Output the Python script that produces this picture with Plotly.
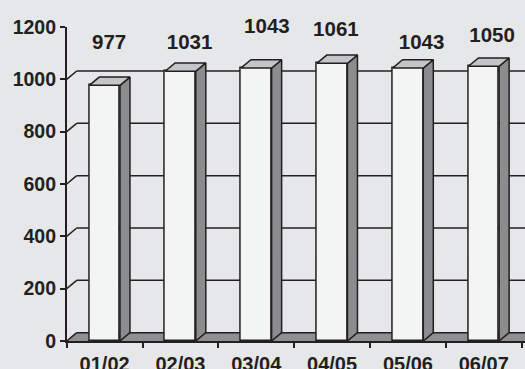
import plotly.graph_objects as go

# Season labels and enrolment counts
seasons = ["01/02", "02/03", "03/04", "04/05", "05/06", "06/07"]
counts = [977, 1031, 1043, 1061, 1043, 1050]

# Value-label placement (data units): height of each label and a small sideways nudge
label_heights = [1136, 1137, 1197, 1184, 1137, 1164]
label_nudge = [0.06, 0.12, 0.14, 0.05, 0.18, 0.11]

y_ticks = [0, 200, 400, 600, 800, 1000, 1200]

# Figure geometry
W, H = 525, 369
AX_LEFT, AX_BOTTOM, AX_TOP = 66.7, 28, 27
CAT_PX = 75.83
X_MAX = (W - AX_LEFT) / CAT_PX
Y_MAX = 1200
PX_PER_UNIT = (H - AX_BOTTOM - AX_TOP) / Y_MAX

# 3-D depth offsets converted to data units
DX = 10 / CAT_PX
DY = 8.3 / PX_PER_UNIT
BAR_W = 0.405

BG = "#e6e7e8"
FRONT = "#f3f4f4"
SIDE = "#8b8c8e"
TOP = "#c4c5c7"
FLOOR = "#8e8f91"
INK = "#231f20"
FONT = "Liberation Sans"
LW = 1.5

fig = go.Figure()
shapes = []

# Floor
shapes.append(dict(type="path", xref="x", yref="y", layer="below",
                   path=f"M0,0 L{DX},{DY} L{X_MAX + 1},{DY} L{X_MAX + 1},0 Z",
                   fillcolor=FLOOR, line=dict(width=0)))
shapes.append(dict(type="line", xref="x", yref="y", layer="below",
                   x0=DX, y0=DY, x1=X_MAX + 1, y1=DY,
                   line=dict(color=INK, width=LW)))

# Gridlines on the side wall (diagonals) and back wall (horizontals)
for lv in y_ticks[:-1]:
    shapes.append(dict(type="line", xref="x", yref="y", layer="below",
                       x0=0, y0=lv, x1=DX, y1=lv + DY,
                       line=dict(color=INK, width=LW)))
    if lv > 0:
        shapes.append(dict(type="line", xref="x", yref="y", layer="below",
                           x0=DX, y0=lv + DY, x1=X_MAX + 1, y1=lv + DY,
                           line=dict(color=INK, width=LW)))

centers = [i + 0.5 for i in range(len(seasons))]

# Front faces of the columns
fig.add_trace(go.Bar(x=centers, y=counts, width=BAR_W, base=0,
                     marker=dict(color=FRONT, line=dict(color=INK, width=LW)),
                     hoverinfo="skip", showlegend=False))

# Side and top faces of each column
for c, v in zip(centers, counts):
    x0, x1 = c - BAR_W / 2, c + BAR_W / 2
    fig.add_trace(go.Scatter(
        x=[x1, x1 + DX, x1 + DX, x1, x1], y=[0, DY, v + DY, v, 0],
        mode="lines", fill="toself", fillcolor=SIDE,
        line=dict(color=INK, width=LW), hoverinfo="skip", showlegend=False))
    fig.add_trace(go.Scatter(
        x=[x0, x0 + DX, x1 + DX, x1, x0], y=[v, v + DY, v + DY, v, v],
        mode="lines", fill="toself", fillcolor=TOP,
        line=dict(color=INK, width=LW), hoverinfo="skip", showlegend=False))

# Value labels
fig.add_trace(go.Scatter(
    x=[c + n for c, n in zip(centers, label_nudge)], y=label_heights,
    text=[str(v) for v in counts], mode="text", textposition="middle center",
    textfont=dict(family=FONT, size=20.5, color=INK, weight="bold"),
    cliponaxis=False, hoverinfo="skip", showlegend=False))

# Invisible trace so the season axis (centred labels) is rendered
fig.add_trace(go.Scatter(x=centers, y=[None] * len(centers), xaxis="x2", yaxis="y",
                         mode="markers", hoverinfo="skip", showlegend=False))

x_dom = [AX_LEFT / W, 1]
fig.update_layout(
    width=W, height=H,
    margin=dict(l=0, r=0, t=0, b=0, autoexpand=False),
    paper_bgcolor=BG, plot_bgcolor=BG,
    shapes=shapes, bargap=0,
    xaxis=dict(domain=x_dom, range=[0, X_MAX], tickvals=list(range(len(seasons) + 1)),
               ticks="outside", ticklen=5, tickwidth=LW, tickcolor=INK,
               showline=True, linecolor=INK, linewidth=LW, automargin=False,
               showticklabels=False, showgrid=False, zeroline=False, anchor="y"),
    xaxis2=dict(domain=x_dom, range=[0, X_MAX], overlaying="x", anchor="y", side="bottom",
                tickvals=centers, ticktext=seasons, ticks="", showline=False,
                showgrid=False, zeroline=False, ticklabelstandoff=9, automargin=False,
                tickfont=dict(family=FONT, size=20, color=INK, weight="bold")),
    yaxis=dict(domain=[AX_BOTTOM / H, (H - AX_TOP) / H], range=[0, Y_MAX],
               tickvals=y_ticks, ticks="outside", ticklen=5, tickwidth=LW, tickcolor=INK,
               showline=True, linecolor=INK, linewidth=LW, showgrid=False, zeroline=False,
               ticklabelstandoff=0, automargin=False,
               tickfont=dict(family=FONT, size=19.5, color=INK, weight="bold")),
)

fig.write_html("out.html")
